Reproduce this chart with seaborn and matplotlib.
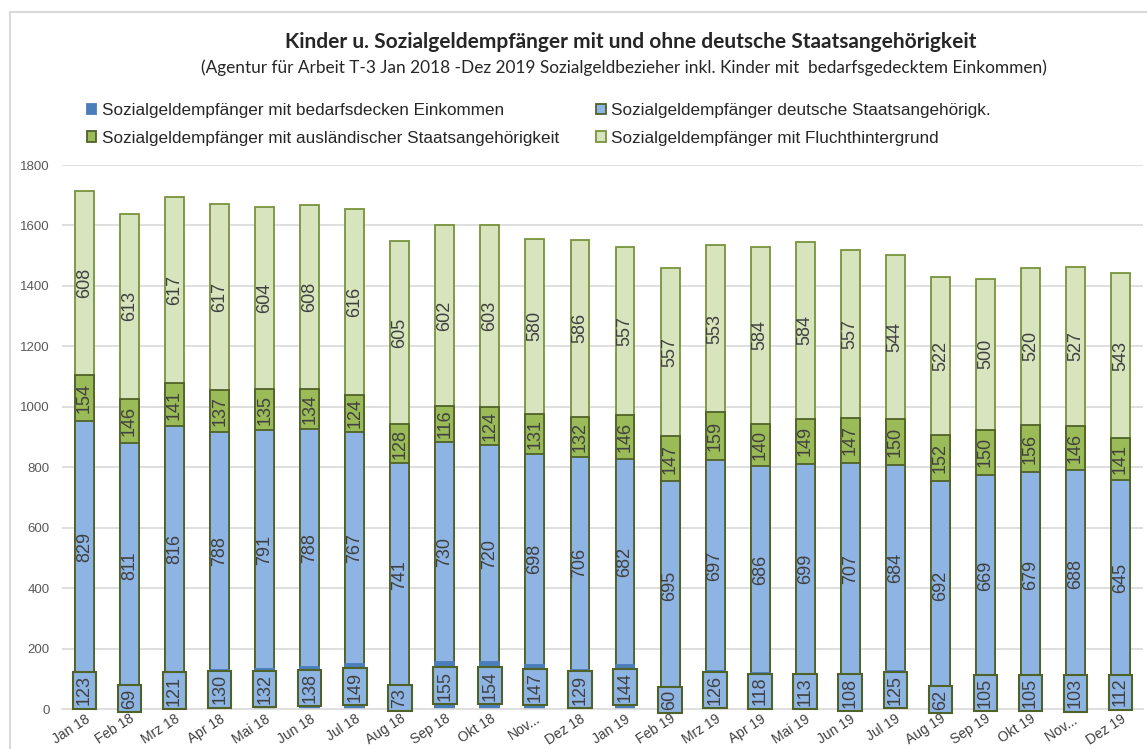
"""
Kinder u. Sozialgeldempfaenger - stacked bar chart (Jan 2018 - Dez 2019).
"""

import numpy as np
import pandas as pd
import matplotlib
matplotlib.use("Agg")
import matplotlib.pyplot as plt
from matplotlib.patches import Patch
from matplotlib.lines import Line2D
import seaborn as sns

months = ["Jan 18", "Feb 18", "Mrz 18", "Apr 18", "Mai 18", "Jun 18", "Jul 18", "Aug 18",
          "Sep 18", "Okt 18", "Nov...", "Dez 18", "Jan 19", "Feb 19", "Mrz 19", "Apr 19",
          "Mai 19", "Jun 19", "Jul 19", "Aug 19", "Sep 19", "Okt 19", "Nov... ", "Dez 19"]

bedarf = [123, 69, 121, 130, 132, 138, 149, 73, 155, 154, 147, 129,
          144, 60, 126, 118, 113, 108, 125, 62, 105, 105, 103, 112]
deutsch = [829, 811, 816, 788, 791, 788, 767, 741, 730, 720, 698, 706,
           682, 695, 697, 686, 699, 707, 684, 692, 669, 679, 688, 645]
auslaend = [154, 146, 141, 137, 135, 134, 124, 128, 116, 124, 131, 132,
            146, 147, 159, 140, 149, 147, 150, 152, 150, 156, 146, 141]
flucht = [608, 613, 617, 617, 604, 608, 616, 605, 602, 603, 580, 586,
          557, 557, 553, 584, 584, 557, 544, 522, 500, 520, 527, 543]

series_names = ["Sozialgeldempfänger mit bedarfsdecken Einkommen",
                "Sozialgeldempfänger deutsche Staatsangehörigk.",
                "Sozialgeldempfänger mit ausländischer Staatsangehörigkeit",
                "Sozialgeldempfänger mit Fluchthintergrund"]
fills = ["#4A7EBB", "#8EB4E3", "#9BBB59", "#D7E4BD"]
edges = ["#4A7EBB", "#4F6228", "#4F6228", "#77933C"]

sns.set_style("white")
plt.rcParams["font.family"] = ["Liberation Sans", "DejaVu Sans"]

df = pd.DataFrame({"Monat": months, "s1": bedarf, "s2": deutsch, "s3": auslaend, "s4": flucht})
cum = df[["s1", "s2", "s3", "s4"]].cumsum(axis=1)

fig = plt.figure(figsize=(11.47, 7.49), dpi=100)
ax = fig.add_axes([62 / 1147, 40 / 749, 1081 / 1147, 544 / 749])

# grid first
for v in range(200, 2000, 200):
    ax.axhline(v, color="#D9D9D9", lw=1.2, zorder=0)

# layered cumulative bars, top layer first
for i in [3, 2, 1, 0]:
    sns.barplot(x=df["Monat"], y=cum.iloc[:, i], color=fills[i], edgecolor=edges[i],
                linewidth=1.3, width=0.42, saturation=1, ax=ax, zorder=2)

# data labels
txt_color = "#404040"
for j in range(len(months)):
    for i, col in enumerate(["s2", "s3", "s4"], start=1):
        lo = cum.iloc[j, i - 1]
        val = df[col].iloc[j]
        ax.text(j, lo + val / 2, str(val), rotation=90, ha="center", va="center",
                fontsize=13, color=txt_color, zorder=4)
    ax.text(j, df["s1"].iloc[j] / 2, str(df["s1"].iloc[j]), rotation=90, ha="center",
            va="center", fontsize=13, color=txt_color, zorder=5, clip_on=False,
            bbox=dict(boxstyle="square,pad=0.18", fc="#8EB4E3", ec="#4F6228", lw=1.5))

ax.set_ylim(0, 1800)
ax.set_xlim(-0.5, len(months) - 0.5)
ax.set_yticks(range(0, 2000, 200))
ax.set_xlabel("")
ax.set_ylabel("")
for s in ["top", "right", "left"]:
    ax.spines[s].set_visible(False)
ax.spines["bottom"].set_color("#D9D9D9")
ax.spines["bottom"].set_linewidth(1.2)
ax.tick_params(axis="y", length=0, labelsize=9.5, labelcolor="#595959", pad=9)
ax.set_xticks(np.arange(len(months)))
ax.set_xticklabels(months, rotation=33, ha="right", rotation_mode="anchor",
                   fontsize=10, color="#404040")
ax.tick_params(axis="x", length=0, pad=2)
ax.set_xticks(np.arange(-0.5, len(months), 1), minor=True)
ax.tick_params(axis="x", which="minor", length=5, color="#D9D9D9", width=1.2)

# titles
fig.text(631 / 1147, 1 - 42 / 749, "Kinder u. Sozialgeldempfänger mit und ohne deutsche Staatsangehörigkeit",
         ha="center", va="center", fontsize=15, fontweight="bold", family=["Lato", "DejaVu Sans"])
fig.text(624 / 1147, 1 - 68 / 749,
         "(Agentur für Arbeit T-3 Jan 2018 -Dez 2019 Sozialgeldbezieher inkl. Kinder mit  bedarfsgedecktem Einkommen)",
         ha="center", va="center", fontsize=12.4, family=["Lato", "DejaVu Sans"])

# legend (column-first order)
handles = [Patch(fc=fills[i], ec=edges[i], lw=1.3, label=series_names[i]) for i in [0, 2, 1, 3]]
fig.legend(handles=handles, ncol=2, loc="upper left", bbox_to_anchor=(87 / 1147, 1 - 103 / 749),
           frameon=False, fontsize=12.3, handlelength=0.55, handleheight=0.6, handletextpad=0.3,
           columnspacing=2.2, labelspacing=0.74, borderpad=0, borderaxespad=0)

# outer chart frame
fig.add_artist(Line2D([10 / 1147, 1], [1 - 12 / 749, 1 - 12 / 749], transform=fig.transFigure,
                      color="#D9D9D9", lw=1.5))
fig.add_artist(Line2D([10 / 1147, 10 / 1147], [0, 1 - 12 / 749], transform=fig.transFigure,
                      color="#D9D9D9", lw=1.5))

plt.savefig("out.png", dpi=100)
plt.close()
